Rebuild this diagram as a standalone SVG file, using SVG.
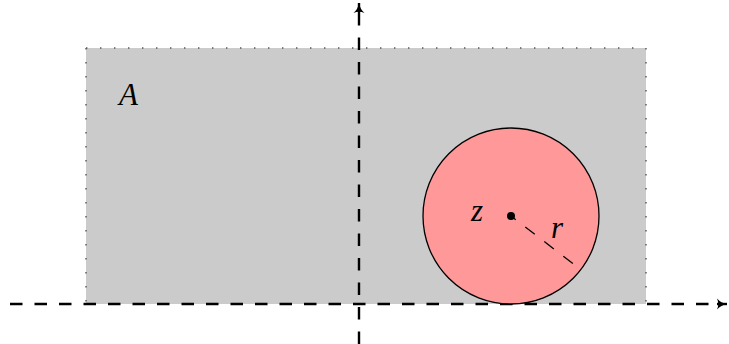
<svg xmlns="http://www.w3.org/2000/svg" width="729" height="344" viewBox="0 0 729 344">
<style>
.axis{stroke:#000;stroke-width:2.4;stroke-dasharray:12.5 12;fill:none}
.dots{stroke:#555;stroke-width:1.4;stroke-dasharray:1.4 12.6;fill:none}
.lbl{font-family:"Liberation Serif","DejaVu Serif",serif;font-style:italic;font-size:31px;fill:#000}
</style>
<defs>
<marker id="arr" viewBox="0 0 12 12" refX="10" refY="6" markerWidth="12" markerHeight="12" markerUnits="userSpaceOnUse" orient="auto">
<path d="M0,0.5 Q4,5 10,6 Q4,7 0,11.5 Q2.5,6 0,0.5Z" fill="#000"/>
</marker>
</defs>
<g id="regionA">
<rect x="86" y="48" width="560" height="256" fill="#cbcbcb"/>
<path class="dots" d="M86,48 H646 V304"/>
<path class="dots" d="M86,48 V304"/>
<text class="lbl" x="119" y="105">A</text>
</g>
<g id="connectors">
<line class="axis" x1="10" y1="304" x2="717" y2="304"/>
<line class="axis" x1="359" y1="344" x2="359" y2="14"/>
<path d="M717,304 L727,304" stroke="#000" stroke-width="2.4" marker-end="url(#arr)"/>
<path d="M359,14 L359,3" stroke="#000" stroke-width="2.4" marker-end="url(#arr)"/>
</g>
<g id="circle">
<circle cx="511" cy="216" r="88" fill="#ff9999" stroke="#000" stroke-width="1.3"/>
<circle cx="511" cy="216" r="4" fill="#000"/>
<line x1="511" y1="216" x2="580" y2="269" stroke="#000" stroke-width="1.3" stroke-dasharray="6 12 12 12 12 12 12 12"/>
<text class="lbl" x="471" y="221">z</text>
<text class="lbl" x="551" y="238">r</text>
</g>
</svg>
